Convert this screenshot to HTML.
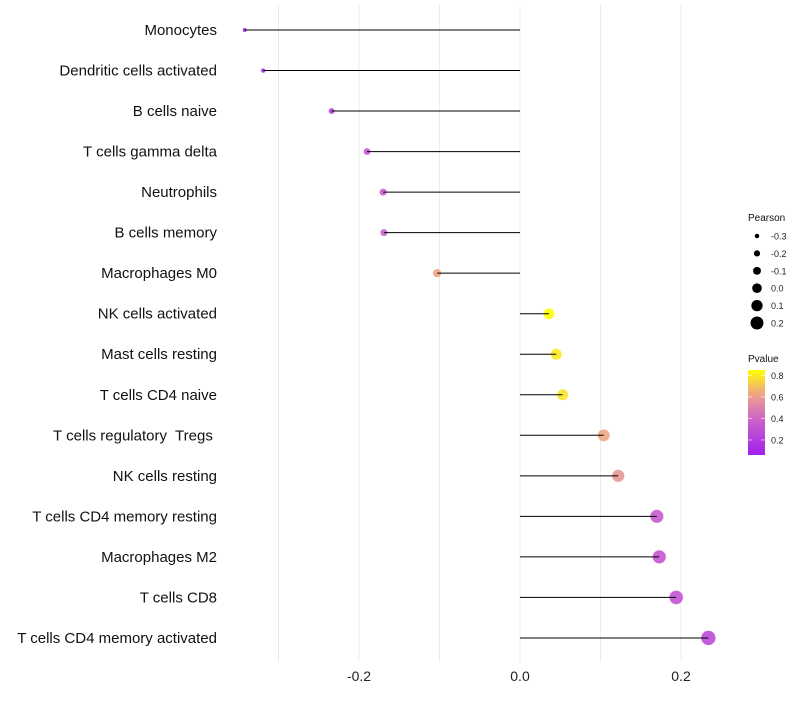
<!DOCTYPE html>
<html><head><meta charset="utf-8"><style>
body{margin:0;background:#fff;font-family:"Liberation Sans",sans-serif;}
svg text{font-family:"Liberation Sans",sans-serif;white-space:pre;}
</style></head><body>
<svg id="chart" width="800" height="700"></svg>
<script>
const categories=["Monocytes","Dendritic cells activated","B cells naive","T cells gamma delta","Neutrophils","B cells memory","Macrophages M0","NK cells activated","Mast cells resting","T cells CD4 naive","T cells regulatory  Tregs ","NK cells resting","T cells CD4 memory resting","Macrophages M2","T cells CD8","T cells CD4 memory activated"];
const pearson=[-0.342,-0.319,-0.234,-0.190,-0.170,-0.169,-0.103,0.036,0.045,0.053,0.104,0.122,0.170,0.173,0.194,0.234];
const pvalues=[0.1,0.12,0.22,0.32,0.37,0.37,0.63,0.85,0.8,0.78,0.63,0.58,0.35,0.33,0.31,0.27];
const xTicks=[-0.2,0.0,0.2];
const xTickLabels=["-0.2","0.0","0.2"];
const gridMinor=[-0.3,-0.1,0.1];
const sizeLegend=[-0.3,-0.2,-0.1,0.0,0.1,0.2];
const colorLegend=[0.8,0.6,0.4,0.2];

const NS="http://www.w3.org/2000/svg";
const svg=document.getElementById('chart');
function el(t,a){const e=document.createElementNS(NS,t);for(const k in a)e.setAttribute(k,a[k]);return e;}
const xS=v=>520+v*805;
const yS=i=>30+i*40.53;
const rS=v=>2+(v+0.34)/0.58*5.2;
function lerp(a,b,t){return a.map((x,i)=>Math.round(x+(b[i]-x)*t));}
function colorS(p){
  const t=Math.max(0,Math.min(1,(p-0.06)/0.79));
  const s=[[160,32,240],[205,100,200],[238,165,135],[255,255,0]];
  const pos=[0,0.42,0.72,1];
  for(let i=0;i<3;i++){if(t<=pos[i+1]){const c=lerp(s[i],s[i+1],(t-pos[i])/(pos[i+1]-pos[i]));return `rgb(${c})`;}}
  return 'rgb(255,255,0)';
}
gridMinor.concat(xTicks).forEach(v=>{
  const g=el('line',{x1:xS(v),x2:xS(v),y1:5,y2:662,stroke:'#ebebeb','stroke-width':1});
  
  
  svg.appendChild(g);
});
xTicks.forEach((v,i)=>{
  const t=el('text',{x:xS(v),y:681,'text-anchor':'middle','font-size':14,fill:'#222'});
  t.textContent=xTickLabels[i];
  
  
  svg.appendChild(t);
});
categories.forEach((c,i)=>{
  const y=yS(i);
  const lab=el('text',{x:217,y:y+5,'text-anchor':'end','font-size':15,fill:'#111'});
  lab.textContent=c;
  
  
  svg.appendChild(lab);
  const pt=el('circle',{cx:xS(pearson[i]),cy:y,r:rS(pearson[i]),fill:colorS(pvalues[i]),'fill-opacity':0.9});
  
  
  svg.appendChild(pt);
  const ln=el('line',{x1:xS(0),x2:xS(pearson[i]),y1:y,y2:y,stroke:'#000','stroke-width':1});
  
  
  svg.appendChild(ln);
});
const st=el('text',{x:748,y:221,'font-size':10,fill:'#111'});st.textContent='Pearson';


svg.appendChild(st);
sizeLegend.forEach((v,i)=>{
  const y=236+i*17.4;
  const c=el('circle',{cx:757,cy:y,r:rS(v)*0.95,fill:'#000'});
  
  
  svg.appendChild(c);
  const t=el('text',{x:771,y:y+3.5,'font-size':9,fill:'#222'});t.textContent=v.toFixed(1);
  
  
  svg.appendChild(t);
});
const ct=el('text',{x:748,y:362,'font-size':10,fill:'#111'});ct.textContent='Pvalue';


svg.appendChild(ct);
const defs=el('defs',{});const gr=el('linearGradient',{id:'pg',x1:0,y1:1,x2:0,y2:0});
for(let k=0;k<=10;k++){const p=0.06+k*0.079;gr.appendChild(el('stop',{offset:k/10,'stop-color':colorS(p)}));}
defs.appendChild(gr);svg.appendChild(defs);
const bar=el('rect',{x:748,y:370,width:17,height:85,fill:'url(#pg)'});


svg.appendChild(bar);
const pY=p=>455-(p-0.06)/0.79*85;
colorLegend.forEach(p=>{
  const t=el('text',{x:771,y:pY(p)+3.5,'font-size':9,fill:'#222'});t.textContent=p.toFixed(1);
  
  
  svg.appendChild(t);
  svg.appendChild(el('line',{x1:748,x2:752,y1:pY(p),y2:pY(p),stroke:'#fff','stroke-opacity':0.6}));
  svg.appendChild(el('line',{x1:761,x2:765,y1:pY(p),y2:pY(p),stroke:'#fff','stroke-opacity':0.6}));
});
</script>
</body></html>
